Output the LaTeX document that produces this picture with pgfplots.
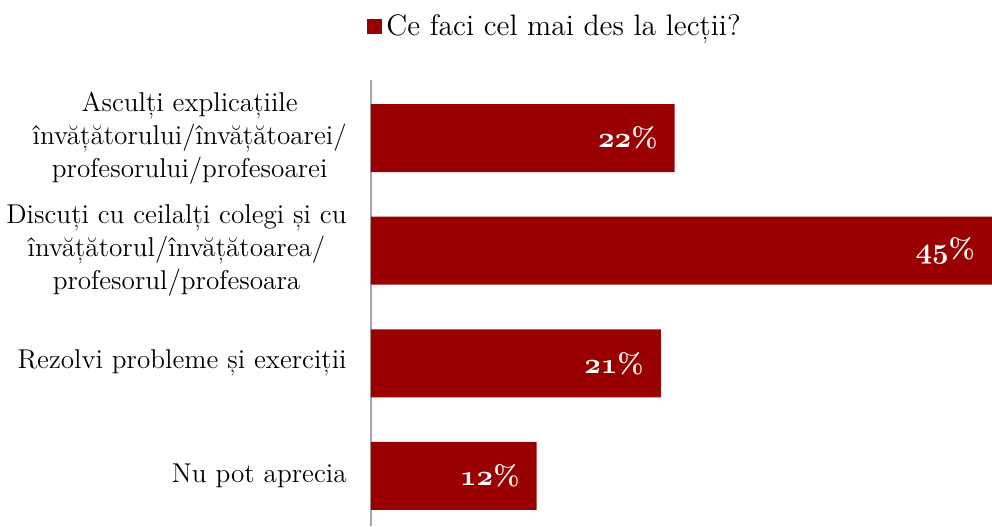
\documentclass[border=0pt]{standalone}
\usepackage{pgfplots}
\pgfplotsset{compat=1.18}
\definecolor{barred}{HTML}{990000}
\newcommand\osn[1]{{\fontencoding{OML}\fontfamily{cmm}\fontseries{b}\fontshape{it}\selectfont #1}}
\begin{document}
\begin{tikzpicture}
\begin{axis}[
  at={(0,0)}, anchor=south west,
  scale only axis,
  width=310.5pt, height=223pt,
  xbar, bar width=34pt, bar shift=0pt,
  xmin=0, xmax=45,
  ymin=-0.444, ymax=3.515,
  enlargelimits=false,
  axis x line=none,
  axis y line*=left,
  y axis line style={draw=gray!70, line width=0.7pt, -},
  ytick={0,1,2,3},
  major tick length=0pt,
  yticklabels={{Nu pot aprecia},{Rezolvi probleme și exerciții},{Discuți cu ceilalți colegi și cu\\învățătorul/învățătoarea/\\profesorul/profesoara},{Asculți explicațiile\\învățătorului/învățătoarei/\\profesorului/profesoarei}},
  yticklabel style={align=center, font=\fontsize{13.6}{16.5}\selectfont, inner sep=0pt, xshift=-12pt},
  point meta=explicit symbolic,
  nodes near coords={\osn{\pgfplotspointmeta}\%},
  nodes near coords align={left},
  every node near coord/.append style={text=white, font=\bfseries\fontsize{14}{16}\selectfont, xshift=-5pt},
  legend style={draw=none, fill=none, at={(0,1)}, anchor=west, xshift=-5pt, yshift=26.5pt, font=\fontsize{14.8}{17}\selectfont, legend cell align=left},
  legend image code/.code={\fill[barred] (0pt,-3.75pt) rectangle (7.5pt,3.75pt);},
]
\addplot[fill=barred, draw=none] coordinates {(12,0) [12] (21,1) [21] (45,2) [45] (22,3) [22]};
\addlegendentry{Ce faci cel mai des la lecții?}
\end{axis}
\path[use as bounding box] (-185.5pt,0) rectangle (310.5pt,263pt);
\end{tikzpicture}
\end{document}
